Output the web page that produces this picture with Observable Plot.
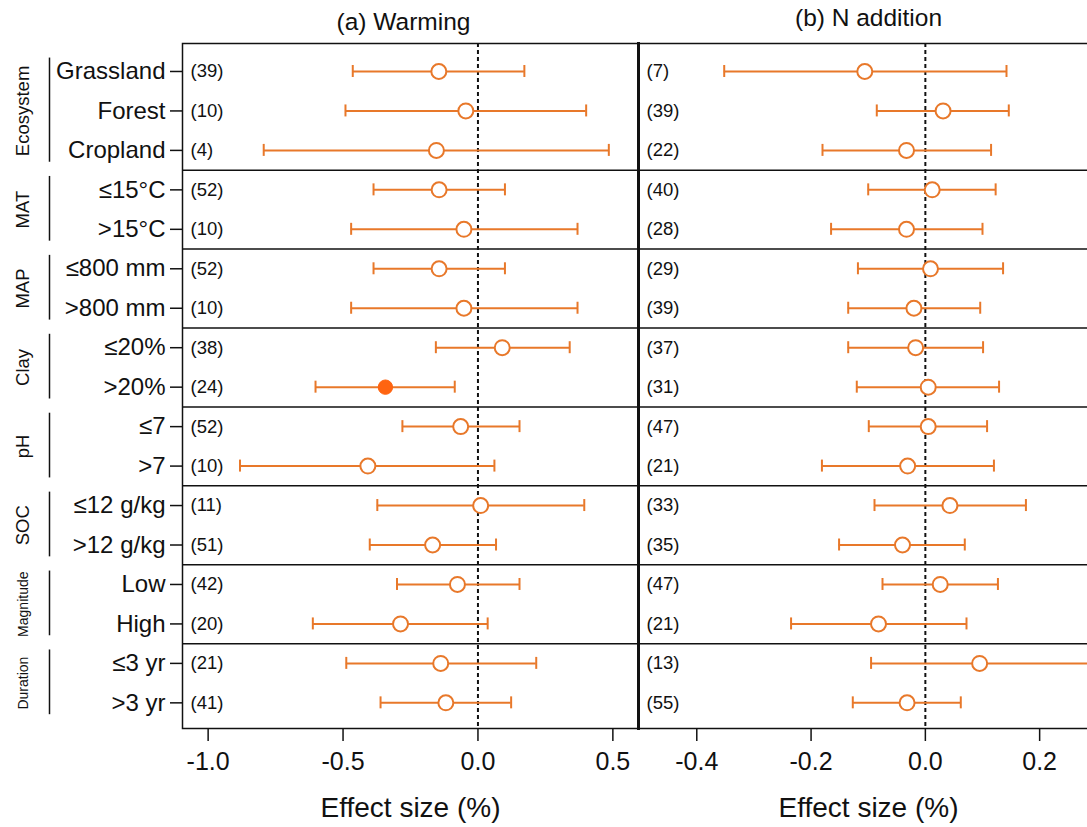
<!DOCTYPE html>
<html><head><meta charset="utf-8">
<script src="https://cdn.jsdelivr.net/npm/d3@7"></script>
<script src="https://cdn.jsdelivr.net/npm/@observablehq/plot@0.6"></script>
<style>
body{margin:0;background:#fff;overflow:hidden}
#wrap{position:relative;width:1087px;height:827px;overflow:hidden;background:#fff}
#wrap svg{position:absolute;top:0;overflow:visible;background:transparent}
</style></head><body><div id="wrap"></div>
<script>
const rowLabels = ["Grassland","Forest","Cropland","≤15°C",">15°C","≤800 mm",">800 mm","≤20%",">20%","≤7",">7","≤12 g/kg",">12 g/kg","Low","High","≤3 yr",">3 yr"];
const groupNames = ["Ecosystem","MAT","MAP","Clay","pH","SOC","Magnitude","Duration"];
const groupSizes = [3,2,2,2,2,2,2,2];

const warmN    = [39,10,4,52,10,52,10,38,24,52,10,11,51,42,20,21,41];
const warmMean = [-0.145,-0.045,-0.154,-0.144,-0.052,-0.144,-0.052,0.090,-0.343,-0.064,-0.408,0.010,-0.168,-0.076,-0.287,-0.138,-0.119];
const warmLo   = [-0.464,-0.491,-0.794,-0.387,-0.470,-0.387,-0.470,-0.156,-0.602,-0.280,-0.882,-0.373,-0.401,-0.300,-0.612,-0.488,-0.361];
const warmHi   = [0.172,0.401,0.485,0.100,0.369,0.100,0.369,0.340,-0.086,0.154,0.061,0.394,0.067,0.154,0.036,0.216,0.123];
const warmSig  = [0,0,0,0,0,0,0,0,1,0,0,0,0,0,0,0,0];

const nN    = [7,39,22,40,28,29,39,37,31,47,21,33,35,47,21,13,55];
const nMean = [-0.106,0.031,-0.033,0.012,-0.033,0.009,-0.020,-0.017,0.005,0.005,-0.031,0.043,-0.040,0.026,-0.082,0.095,-0.032];
const nLo   = [-0.352,-0.085,-0.180,-0.100,-0.165,-0.118,-0.135,-0.135,-0.120,-0.099,-0.181,-0.089,-0.151,-0.075,-0.235,-0.095,-0.127];
const nHi   = [0.142,0.146,0.115,0.123,0.100,0.136,0.096,0.101,0.129,0.108,0.120,0.176,0.069,0.127,0.072,0.300,0.062];
const nSig  = [0,0,0,0,0,0,0,0,0,0,0,0,0,0,0,0,0];

const ticksA = [-1.0,-0.5,0.0,0.5];
const ticksB = [-0.4,-0.2,0.0,0.2];

const ORANGE = "#E8782A", FILLED = "#FF6410", INK = "#111";
const FONT = "'Liberation Sans', Arial, Helvetica, sans-serif";
const CAP = 0.152;

const rows = (n, m, lo, hi, sig) => rowLabels.map((l, i) => ({i, label: l, n: n[i], mean: m[i], lo: lo[i], hi: hi[i], sig: !!sig[i]}));
const dataA = rows(warmN, warmMean, warmLo, warmHi, warmSig);
const dataB = rows(nN, nMean, nLo, nHi, nSig);

const groups = [];
let s = 0;
groupNames.forEach((g, k) => { groups.push({name: g, first: s, last: s + groupSizes[k] - 1}); s += groupSizes[k]; });
const separators = groups.slice(1).map(g => g.first - 0.5);
const rowIdx = rowLabels.map((_, i) => i);

const yOpts = {type: "linear", domain: [-0.709, 16.65], reverse: true};
const H = 827, MT = 43, MB = 99;

function panelMarks(data, ticks, title, titleDy, titleDx) {
  return [
    Plot.ruleY(separators, {stroke: INK, strokeWidth: 1.5}),
    Plot.ruleX([0], {stroke: INK, strokeWidth: 2, strokeDasharray: "4,3"}),
    Plot.ruleY(data, {y: "i", x1: "lo", x2: "hi", stroke: ORANGE, strokeWidth: 2, clip: true}),
    Plot.ruleX(data, {x: "lo", y1: d => d.i - CAP, y2: d => d.i + CAP, stroke: ORANGE, strokeWidth: 2, clip: true}),
    Plot.ruleX(data, {x: "hi", y1: d => d.i - CAP, y2: d => d.i + CAP, stroke: ORANGE, strokeWidth: 2, clip: true}),
    Plot.dot(data.filter(d => !d.sig), {x: "mean", y: "i", r: 7.5, stroke: ORANGE, fill: "white", strokeWidth: 2}),
    Plot.dot(data.filter(d => d.sig), {x: "mean", y: "i", r: 7.2, stroke: FILLED, fill: FILLED, strokeWidth: 1}),
    Plot.text(data, {y: "i", text: d => `(${d.n})`, frameAnchor: "left", dx: 8, textAnchor: "start", fontSize: 18.5}),
    Plot.axisX({ticks, tickFormat: d => d.toFixed(1), tickSize: 13, tickPadding: 11, fontSize: 25, strokeWidth: 1.5, label: null}),
    Plot.text([title], {frameAnchor: "top", dy: titleDy, dx: titleDx, fontSize: 24.5, lineAnchor: "middle"}),
    Plot.text(["Effect size (%)"], {frameAnchor: "bottom", dy: 80, fontSize: 28, lineAnchor: "middle"})
  ];
}

const xA = [-1.095, 0.595];
const left = Plot.plot({
  width: 640, height: H, marginLeft: 182, marginRight: 2, marginTop: MT, marginBottom: MB,
  style: {fontFamily: FONT, fontSize: "24px", color: INK, background: "transparent", overflow: "visible"},
  x: {domain: xA},
  y: yOpts,
  marks: [
    ...panelMarks(dataA, ticksA, "(a) Warming", -21, -7),
    Plot.axisY({ticks: rowIdx, tickFormat: i => rowLabels[i], tickSize: 12, tickPadding: 5, fontSize: 24, strokeWidth: 1.5, label: null}),
    Plot.ruleX(groups, {x: () => xA[0], dx: -133, y1: d => d.first - 0.34, y2: d => d.last + 0.3, stroke: INK, strokeWidth: 1.5}),
    Plot.text(groups.filter(d => d.name !== "Magnitude" && d.name !== "Duration"),
      {y: d => (d.first + d.last) / 2, text: "name", frameAnchor: "left", dx: -159, rotate: -90, textAnchor: "middle", fontSize: 18.5}),
    Plot.text(groups.filter(d => d.name === "Magnitude" || d.name === "Duration"),
      {y: d => (d.first + d.last) / 2, text: "name", frameAnchor: "left", dx: -159, rotate: -90, textAnchor: "middle", fontSize: 14}),
    Plot.frame({stroke: INK, strokeWidth: 1.5}),
    Plot.frame({anchor: "right", stroke: INK, strokeWidth: 3})
  ]
});
left.style.left = "0px";

const xB = [-0.502, 0.303];
const right = Plot.plot({
  width: 480, height: H, marginLeft: 10, marginRight: 10, marginTop: MT, marginBottom: MB,
  style: {fontFamily: FONT, fontSize: "24px", color: INK, background: "transparent", overflow: "visible"},
  x: {domain: xB},
  y: {...yOpts, axis: null},
  marks: [
    ...panelMarks(dataB, ticksB, "(b) N addition", -25, 0),
    Plot.frame({stroke: INK, strokeWidth: 1.5}),
    Plot.frame({anchor: "left", stroke: INK, strokeWidth: 3})
  ]
});
right.style.left = "628px";

const wrap = document.getElementById("wrap");
wrap.appendChild(left);
wrap.appendChild(right);
</script></body></html>
